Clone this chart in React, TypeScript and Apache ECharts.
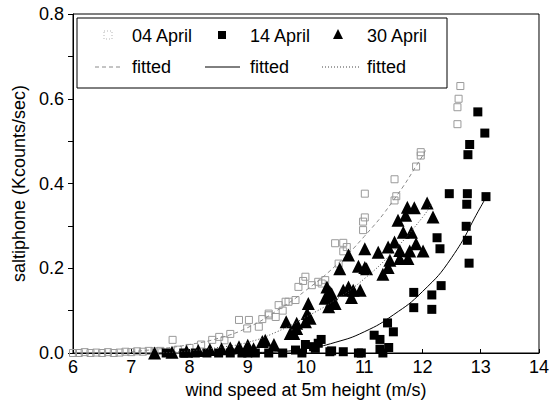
import React, { useEffect, useRef } from "react";
import * as echarts from "echarts";

// 04 April (grey open squares)
const april04X = [6.0, 6.1, 6.2, 6.3, 6.4, 6.5, 6.6, 6.7, 6.8, 6.9, 7.0, 7.1, 7.2, 7.3, 7.4, 7.5, 7.71, 7.8, 8.0, 8.2, 8.39, 8.51, 8.6, 8.7, 8.85, 8.99, 9.02, 9.19, 9.25, 9.36, 9.36, 9.48, 9.53, 9.6, 9.65, 9.7, 9.82, 9.87, 9.95, 9.99, 10.1, 10.21, 10.27, 10.33, 10.5, 10.56, 10.64, 10.64, 10.7, 10.98, 10.98, 11.01, 11.01, 11.52, 11.55, 11.52, 11.89, 11.97, 11.97, 12.6, 12.6, 12.62, 12.65];
const april04Y = [0.0, 0.0, 0.002, 0.0, 0.001, 0.0, 0.002, 0.0, 0.001, 0.003, 0.002, 0.004, 0.003, 0.005, 0.004, 0.005, 0.031, 0.008, 0.012, 0.02, 0.031, 0.038, 0.03, 0.045, 0.078, 0.058, 0.078, 0.062, 0.08, 0.089, 0.093, 0.085, 0.113, 0.1, 0.121, 0.121, 0.125, 0.156, 0.17, 0.18, 0.16, 0.168, 0.164, 0.172, 0.259, 0.211, 0.24, 0.26, 0.25, 0.29, 0.31, 0.32, 0.376, 0.36, 0.37, 0.41, 0.44, 0.466, 0.474, 0.54, 0.58, 0.6, 0.63];

// 14 April (filled squares)
const april14X = [7.6, 7.9, 8.1, 8.3, 8.5, 8.7, 8.9, 9.0, 9.13, 9.36, 9.6, 9.82, 9.93, 9.99, 10.13, 10.16, 10.21, 10.26, 10.41, 10.44, 10.64, 10.9, 10.95, 11.17, 11.27, 11.27, 11.32, 11.4, 11.42, 11.5, 11.85, 11.85, 12.16, 12.16, 12.32, 12.25, 12.3, 12.46, 12.77, 12.76, 12.75, 12.77, 12.8, 12.78, 12.81, 12.95, 13.07, 13.09];
const april14Y = [0.0, 0.0, 0.0, 0.0, 0.0, 0.0, 0.0, 0.0, 0.0, 0.0, 0.0, 0.007, 0.0, 0.02, 0.015, 0.011, 0.023, 0.032, 0.003, 0.005, 0.003, 0.0, 0.0, 0.042, 0.032, 0.009, 0.0, 0.071, 0.013, 0.05, 0.143, 0.107, 0.137, 0.103, 0.159, 0.272, 0.246, 0.376, 0.376, 0.351, 0.299, 0.266, 0.212, 0.468, 0.492, 0.569, 0.519, 0.369];

// 30 April (filled triangles)
const april30X = [7.4, 7.7, 7.95, 8.15, 8.35, 8.55, 8.7, 8.85, 9.0, 9.1, 9.25, 9.3, 9.45, 9.66, 9.73, 9.79, 9.84, 9.84, 9.99, 10.02, 10.04, 10.04, 10.07, 10.33, 10.36, 10.39, 10.41, 10.44, 10.44, 10.5, 10.58, 10.64, 10.73, 10.73, 10.78, 10.81, 10.9, 10.93, 11.01, 11.01, 11.04, 11.24, 11.32, 11.41, 11.41, 11.44, 11.52, 11.58, 11.61, 11.61, 11.67, 11.71, 11.74, 11.75, 11.78, 11.81, 11.86, 11.89, 12.01, 12.08, 12.18];
const april30Y = [0.0, 0.002, 0.004, 0.006, 0.008, 0.01, 0.012, 0.015, 0.018, 0.01, 0.027, 0.03, 0.02, 0.074, 0.046, 0.046, 0.058, 0.07, 0.074, 0.093, 0.085, 0.117, 0.082, 0.129, 0.156, 0.109, 0.144, 0.121, 0.14, 0.117, 0.199, 0.148, 0.156, 0.231, 0.131, 0.148, 0.205, 0.148, 0.202, 0.246, 0.199, 0.238, 0.186, 0.202, 0.25, 0.219, 0.262, 0.313, 0.242, 0.223, 0.285, 0.325, 0.344, 0.223, 0.241, 0.285, 0.343, 0.258, 0.241, 0.354, 0.321];

// fitted curves
const fit04X = [7.0, 7.5, 8.0, 8.5, 9.0, 9.5, 10.0, 10.5, 11.0, 11.5, 12.0, 12.05];
const fit04Y = [0.003, 0.01, 0.02, 0.035, 0.06, 0.1, 0.148, 0.205, 0.275, 0.36, 0.465, 0.478];
const fit14X = [8.0, 8.5, 9.0, 9.5, 10.0, 10.5, 11.0, 11.5, 12.0, 12.5, 13.0, 13.1];
const fit14Y = [0.0, 0.0, 0.001, 0.003, 0.01, 0.025, 0.05, 0.09, 0.145, 0.225, 0.345, 0.37];
const fit30X = [7.5, 8.0, 8.5, 9.0, 9.5, 10.0, 10.5, 11.0, 11.5, 12.0, 12.15];
const fit30Y = [0.0, 0.005, 0.013, 0.025, 0.05, 0.085, 0.125, 0.175, 0.24, 0.32, 0.35];

const xTicks = [6, 7, 8, 9, 10, 11, 12, 13, 14];
const yTicks = [0.0, 0.2, 0.4, 0.6, 0.8];

const legendRow1 = ["04 April", "14 April", "30 April"];
const legendRow2 = ["fitted", "fitted", "fitted"];

const zip = (xs: number[], ys: number[]) => xs.map((x, i) => [x, ys[i]]);

const FONT = "'Liberation Sans', Arial, Helvetica, sans-serif";
const FS = 18;

export default function App() {
  const ref = useRef<HTMLDivElement>(null);
  useEffect(() => {
    if (!ref.current) return;
    const chart = echarts.init(ref.current, undefined, { renderer: "svg" });
    const textStyle = { fontFamily: FONT, fontSize: FS, fill: "#000" };
    const option: any = {
      animation: false,
      backgroundColor: "#fff",
      textStyle: { fontFamily: FONT },
      grid: {
        left: 73,
        right: 10,
        top: 14,
        bottom: 54,
        show: true,
        borderColor: "#000",
        borderWidth: 1,
      },
      xAxis: {
        type: "value",
        min: xTicks[0],
        max: xTicks[xTicks.length - 1],
        interval: 1,
        name: "wind speed at 5m height (m/s)",
        nameLocation: "middle",
        nameGap: 24,
        nameTextStyle: { fontFamily: FONT, fontSize: FS, color: "#000" },
        axisLine: { show: true, onZero: false, lineStyle: { color: "#000", width: 1 } },
        axisTick: { show: true, inside: true, length: 4, lineStyle: { color: "#000" } },
        axisLabel: { fontFamily: FONT, fontSize: FS, color: "#000", margin: 5 },
        splitLine: { show: false },
      },
      yAxis: {
        type: "value",
        min: yTicks[0],
        max: yTicks[yTicks.length - 1],
        interval: 0.2,
        name: "saltiphone (Kcounts/sec)",
        nameLocation: "middle",
        nameGap: 43,
        nameTextStyle: { fontFamily: FONT, fontSize: FS, color: "#000" },
        axisLine: { show: true, onZero: false, lineStyle: { color: "#000", width: 1 } },
        axisTick: { show: true, inside: false, length: 5, lineStyle: { color: "#000" } },
        minorTick: { show: true, splitNumber: 2, length: 5, lineStyle: { color: "#000" } },
        axisLabel: {
          fontFamily: FONT,
          fontSize: FS,
          color: "#000",
          margin: 9,
          formatter: (v: number) => v.toFixed(1),
        },
        splitLine: { show: false },
      },
      series: [
        {
          name: "04 April",
          type: "scatter",
          data: zip(april04X, april04Y),
          symbol: "rect",
          symbolSize: 7,
          itemStyle: { color: "transparent", borderColor: "#9a9a9a", borderWidth: 1, opacity: 1 },
          z: 2,
        },
        {
          name: "04 April fitted",
          type: "line",
          data: zip(fit04X, fit04Y),
          showSymbol: false,
          smooth: true,
          lineStyle: { color: "#8a8a8a", width: 1, type: [4, 3] },
          z: 3,
        },
        {
          name: "30 April",
          type: "scatter",
          data: zip(april30X, april30Y),
          symbol: "triangle",
          symbolSize: 13,
          itemStyle: { color: "#000", opacity: 1 },
          z: 4,
        },
        {
          name: "30 April fitted",
          type: "line",
          data: zip(fit30X, fit30Y),
          showSymbol: false,
          smooth: true,
          lineStyle: { color: "#444", width: 1, type: [1, 2] },
          z: 5,
        },
        {
          name: "14 April",
          type: "scatter",
          data: zip(april14X, april14Y),
          symbol: "rect",
          symbolSize: 9,
          itemStyle: { color: "#000", opacity: 1 },
          z: 4,
        },
        {
          name: "14 April fitted",
          type: "line",
          data: zip(fit14X, fit14Y),
          showSymbol: false,
          smooth: true,
          lineStyle: { color: "#000", width: 1 },
          z: 5,
        },
      ],
      graphic: [
        {
          type: "rect",
          shape: { x: 77, y: 18, width: 370, height: 70 },
          style: { fill: "#fff", stroke: "#000", lineWidth: 1 },
          z: 100,
        },
        // row 1 markers
        {
          type: "rect",
          shape: { x: 104, y: 31, width: 8, height: 8 },
          style: { fill: "none", stroke: "#b5b5b5", lineWidth: 1, lineDash: [1, 2] },
          z: 101,
        },
        {
          type: "rect",
          shape: { x: 218, y: 31, width: 8, height: 8 },
          style: { fill: "#000" },
          z: 101,
        },
        {
          type: "polygon",
          shape: { points: [[338, 29], [333, 39], [343, 39]] },
          style: { fill: "#000" },
          z: 101,
        },
        // row 2 lines
        {
          type: "line",
          shape: { x1: 95, y1: 67, x2: 121, y2: 67 },
          style: { stroke: "#8a8a8a", lineWidth: 1, lineDash: [4, 3] },
          z: 101,
        },
        {
          type: "line",
          shape: { x1: 205, y1: 67, x2: 240, y2: 67 },
          style: { stroke: "#000", lineWidth: 1 },
          z: 101,
        },
        {
          type: "line",
          shape: { x1: 322, y1: 67, x2: 360, y2: 67 },
          style: { stroke: "#444", lineWidth: 1, lineDash: [1, 2] },
          z: 101,
        },
        // texts
        { type: "text", x: 132, y: 36, style: { ...textStyle, text: legendRow1[0], verticalAlign: "middle" }, z: 101 },
        { type: "text", x: 250, y: 36, style: { ...textStyle, text: legendRow1[1], verticalAlign: "middle" }, z: 101 },
        { type: "text", x: 367, y: 36, style: { ...textStyle, text: legendRow1[2], verticalAlign: "middle" }, z: 101 },
        { type: "text", x: 132, y: 67, style: { ...textStyle, text: legendRow2[0], verticalAlign: "middle" }, z: 101 },
        { type: "text", x: 250, y: 67, style: { ...textStyle, text: legendRow2[1], verticalAlign: "middle" }, z: 101 },
        { type: "text", x: 367, y: 67, style: { ...textStyle, text: legendRow2[2], verticalAlign: "middle" }, z: 101 },
      ],
    };
    chart.setOption(option);
    return () => chart.dispose();
  }, []);
  return <div ref={ref} style={{ width: 552, height: 407, position: "absolute", left: 0, top: 0 }} />;
}
